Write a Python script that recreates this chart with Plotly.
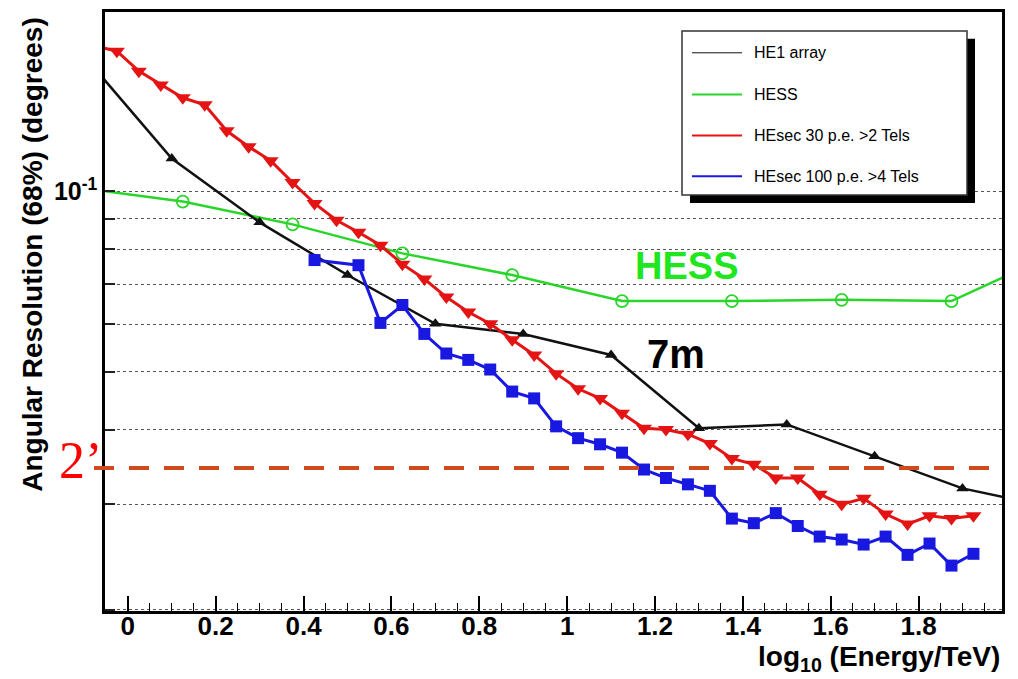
import math
import plotly.graph_objects as go

# ---------------- data ----------------
he1_x = [-0.1, 0.1, 0.3, 0.5, 0.7, 0.9, 1.1, 1.3, 1.5, 1.7, 1.9, 2.1]
he1_y = [0.1685, 0.1135, 0.0888, 0.0725, 0.0601, 0.0578, 0.0533, 0.0402, 0.0408, 0.0361, 0.0319, 0.0297]

hess_x = [-0.125, 0.125, 0.375, 0.625, 0.875, 1.125, 1.375, 1.625, 1.875, 2.125]
hess_y = [0.1017, 0.0962, 0.0881, 0.0788, 0.0725, 0.0656, 0.0656, 0.0659, 0.0656, 0.0797]

sec30_x = [-0.075, -0.025, 0.025, 0.075, 0.125, 0.175, 0.225, 0.275, 0.325, 0.375,
           0.425, 0.475, 0.525, 0.575, 0.625, 0.675, 0.725, 0.775, 0.825, 0.875,
           0.925, 0.975, 1.025, 1.075, 1.125, 1.175, 1.225, 1.275, 1.325, 1.375,
           1.425, 1.475, 1.525, 1.575, 1.625, 1.675, 1.725, 1.775, 1.825, 1.875, 1.925]
sec30_y = [0.175, 0.1716, 0.1589, 0.1507, 0.1434, 0.1396, 0.1263, 0.1188, 0.1126, 0.1035,
           0.0955, 0.0895, 0.0855, 0.0813, 0.0756, 0.0714, 0.0666, 0.0629, 0.0601, 0.0565,
           0.0533, 0.0496, 0.0468, 0.0451, 0.0426, 0.0402, 0.0400, 0.0393, 0.0379, 0.0358,
           0.0350, 0.0332, 0.0332, 0.0312, 0.0300, 0.0307, 0.0289, 0.0278, 0.0287, 0.0284, 0.0287]

sec100_x = [0.425, 0.525, 0.575, 0.625, 0.675, 0.725, 0.775, 0.825, 0.875, 0.925,
            0.975, 1.025, 1.075, 1.125, 1.175, 1.225, 1.275, 1.325, 1.375, 1.425,
            1.475, 1.525, 1.575, 1.625, 1.675, 1.725, 1.775, 1.825, 1.875, 1.925]
sec100_y = [0.0768, 0.0753, 0.0603, 0.0646, 0.0578, 0.0536, 0.0523, 0.0504, 0.0463, 0.0451,
            0.0405, 0.0387, 0.0378, 0.0366, 0.0343, 0.0332, 0.0324, 0.0316, 0.0284, 0.0279,
            0.0290, 0.0276, 0.0265, 0.0262, 0.0257, 0.0265, 0.0247, 0.0258, 0.0237, 0.0248]

series_names = ["HE1 array", "HESS", "HEsec 30 p.e. >2 Tels", "HEsec 100 p.e. >4 Tels"]
series_colors = ["#111111", "#2ad52a", "#e41414", "#1818e0"]

x_tick_vals = [0, 0.2, 0.4, 0.6, 0.8, 1.0, 1.2, 1.4, 1.6, 1.8]
x_tick_text = ["0", "0.2", "0.4", "0.6", "0.8", "1", "1.2", "1.4", "1.6", "1.8"]
y_tick_vals = [0.02, 0.03, 0.04, 0.05, 0.06, 0.07, 0.08, 0.09, 0.1, 0.2]
y_tick_text = ["", "", "", "", "", "", "", "", "10<sup>-1</sup>", ""]

two_arcmin_deg = 0.0345   # level of the dashed "2'" line as drawn

# ---------------- layout helpers ----------------
W, H = 1018, 679
ML, MR, MT, MB = 105, 16, 9, 68
PW, PH = W - ML - MR, H - MT - MB


def px_x(px):
    return (px - ML) / PW


def px_y(py):
    return (H - MB - py) / PH


FONT = "Liberation Sans, Arial, Helvetica, sans-serif"

fig = go.Figure()

fig.add_trace(go.Scatter(x=hess_x, y=hess_y, mode="lines+markers", name=series_names[1],
                         line=dict(color=series_colors[1], width=2.5),
                         marker=dict(symbol="circle-open", size=12,
                                     line=dict(width=1.8, color=series_colors[1])),
                         showlegend=False))
fig.add_trace(go.Scatter(x=he1_x, y=he1_y, mode="lines+markers", name=series_names[0],
                         line=dict(color=series_colors[0], width=2.5),
                         marker=dict(symbol="triangle-up", size=11, color=series_colors[0]),
                         showlegend=False))
fig.add_trace(go.Scatter(x=sec30_x, y=sec30_y, mode="lines+markers", name=series_names[2],
                         line=dict(color=series_colors[2], width=3),
                         marker=dict(symbol="triangle-down", size=14, color=series_colors[2]),
                         showlegend=False))
fig.add_trace(go.Scatter(x=sec100_x, y=sec100_y, mode="lines+markers", name=series_names[3],
                         line=dict(color=series_colors[3], width=3),
                         marker=dict(symbol="square", size=12, color=series_colors[3]),
                         showlegend=False))

shapes = []
# dashed 2 arcmin line
shapes.append(dict(type="line", xref="paper", yref="y",
                   x0=px_x(94), x1=px_x(1000),
                   y0=two_arcmin_deg, y1=two_arcmin_deg,
                   line=dict(color="#cf4a1c", width=4, dash="20px,15px"), layer="above"))
# legend box with shadow
shapes.append(dict(type="rect", xref="paper", yref="paper",
                   x0=px_x(690), x1=px_x(975), y0=px_y(201), y1=px_y(36),
                   fillcolor="black", line=dict(width=0), layer="above"))
shapes.append(dict(type="rect", xref="paper", yref="paper",
                   x0=px_x(682), x1=px_x(967), y0=px_y(193), y1=px_y(28),
                   fillcolor="white", line=dict(color="#333333", width=1.5), layer="above"))
legend_rows = [50, 92, 133, 174]
legend_widths = [1, 2, 2, 2]
annotations = []
for name, col, row, lw in zip(series_names, series_colors, legend_rows, legend_widths):
    shapes.append(dict(type="line", xref="paper", yref="paper",
                       x0=px_x(692), x1=px_x(742), y0=px_y(row), y1=px_y(row),
                       line=dict(color=col, width=lw), layer="above"))
    annotations.append(dict(text=name, xref="paper", yref="paper", x=px_x(752), y=px_y(row),
                            xanchor="left", yanchor="middle", showarrow=False,
                            font=dict(family=FONT, size=16, color="black")))

annotations += [
    dict(text="HESS", xref="paper", yref="paper", x=px_x(686), y=px_y(264),
         xanchor="center", yanchor="middle", showarrow=False,
         font=dict(family=FONT, size=38, color="#1fe61f", weight="bold")),
    dict(text="7m", xref="paper", yref="paper", x=px_x(676), y=px_y(353),
         xanchor="center", yanchor="middle", showarrow=False,
         font=dict(family=FONT, size=40, color="black", weight="bold")),
    dict(text="2’", xref="paper", yref="paper", x=px_x(80), y=px_y(460),
         xanchor="center", yanchor="middle", showarrow=False,
         font=dict(family="Liberation Serif, Times New Roman, serif",
                   size=52, color="#ff0000")),
    dict(text="Angular Resolution (68%) (degrees)", xref="paper", yref="paper",
         x=px_x(33), y=px_y(253), xanchor="center", yanchor="middle",
         textangle=-90, showarrow=False,
         font=dict(family=FONT, size=28, color="black", weight="bold")),
    dict(text="log<sub>10</sub> (Energy/TeV)", xref="paper", yref="paper",
         x=px_x(1002), y=px_y(659), xanchor="right", yanchor="middle", showarrow=False,
         font=dict(family=FONT, size=28, color="black", weight="bold")),
]

fig.update_layout(
    width=W, height=H,
    margin=dict(l=ML, r=MR, t=MT, b=MB, pad=0),
    paper_bgcolor="white", plot_bgcolor="white",
    showlegend=False,
    shapes=shapes, annotations=annotations,
    xaxis=dict(range=[-0.052, 1.99], tickvals=x_tick_vals, ticktext=x_tick_text,
               ticks="inside", ticklen=15, tickwidth=1.5, tickcolor="black",
               minor=dict(ticks="inside", ticklen=8, tickwidth=1, tickcolor="black",
                          dtick=0.05, tick0=0, showgrid=False),
               showgrid=False, zeroline=False,
               showline=True, linecolor="black", linewidth=2.5, mirror=True,
               ticklabelstandoff=-10,
               tickfont=dict(family=FONT, size=26, color="black", weight="bold")),
    yaxis=dict(type="log", range=[math.log10(0.0199), math.log10(0.1995)],
               tickvals=y_tick_vals, ticktext=y_tick_text,
               ticks="inside", ticklen=10, tickwidth=2, tickcolor="#222222",
               showgrid=True, gridcolor="#555555", gridwidth=1, griddash="dot",
               zeroline=False,
               showline=True, linecolor="black", linewidth=2.5, mirror=True,
               tickfont=dict(family=FONT, size=25, color="black", weight="bold")),
)

fig.write_html("out.html")
